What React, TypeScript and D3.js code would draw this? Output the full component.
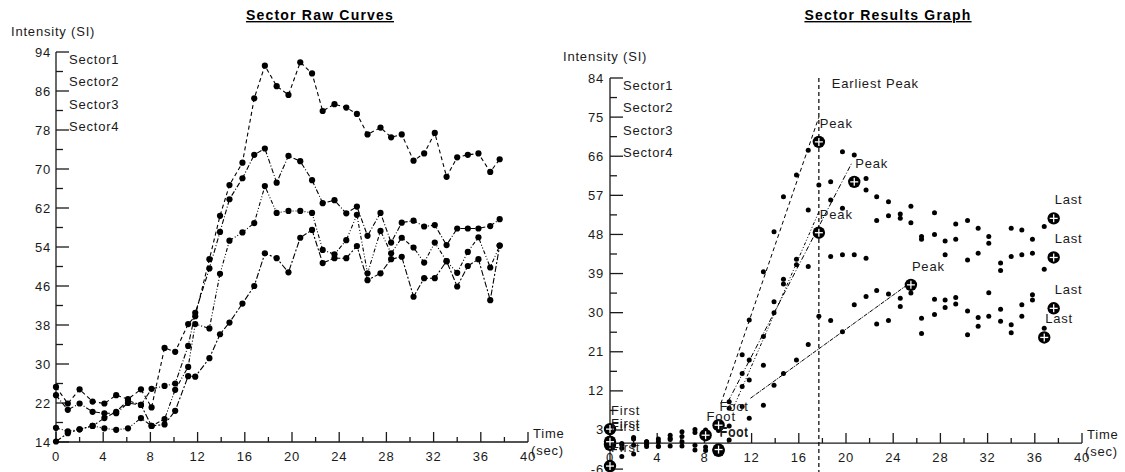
import React, { useRef, useEffect } from 'react';
import * as d3 from 'd3';

// acquisition times (sec), shared by both graphs
const TIMES = [0, 1.0, 2.0, 3.1, 4.1, 5.1, 6.1, 7.2, 8.1, 9.2, 10.1, 11.2, 11.8, 13.0, 13.9, 14.7, 15.8, 16.8, 17.7, 18.7,
  19.7, 20.7, 21.7, 22.6, 23.6, 24.6, 25.5, 26.4, 27.5, 28.4, 29.3, 30.3, 31.2, 32.1, 33.1, 34.0, 34.9, 35.8, 36.8, 37.6];

// raw curves (left)
const SECTOR1_RAW = [25.3, 21.9, 24.8, 22.3, 21.9, 23.6, 22.8, 24.8, 21.1, 33.3, 32.5, 38.2, 39.8, 51.5, 60.4, 66.7, 71.3, 84.5, 91.2, 87.0,
  85.2, 91.9, 89.6, 81.9, 83.3, 82.6, 81.3, 77.1, 78.5, 76.5, 77.1, 71.7, 73.2, 77.4, 68.4, 72.4, 72.9, 73.2, 69.4, 72.0];
const SECTOR2_RAW = [23.6, 20.6, 21.9, 20.2, 19.9, 19.9, 22.0, 21.6, 24.9, 25.5, 26.0, 33.7, 40.5, 49.6, 57.1, 63.8, 68.1, 72.9, 74.2, 67.2,
  72.7, 71.6, 67.7, 63.0, 63.6, 60.9, 62.3, 56.3, 61.0, 54.9, 59.0, 59.4, 58.2, 58.5, 54.4, 57.8, 57.8, 57.8, 58.3, 59.7];
const SECTOR3_RAW = [16.9, 16.2, 16.6, 17.3, 16.8, 16.5, 16.8, 18.9, 17.3, 18.7, 24.7, 29.4, 38.2, 37.3, 48.5, 55.3, 57.0, 58.9, 66.5, 61.0,
  61.4, 61.4, 61.0, 53.4, 52.5, 55.4, 60.6, 48.6, 57.3, 52.7, 55.9, 53.9, 50.8, 54.9, 51.1, 48.7, 53.0, 56.0, 49.8, 54.3];
const SECTOR4_RAW = [14.1, 15.8, 16.6, 17.3, 18.9, 20.2, 22.5, 21.6, 17.3, 17.6, 20.4, 27.5, 27.4, 31.2, 36.1, 38.5, 42.4, 46.0, 52.7, 51.7,
  48.8, 55.9, 57.5, 50.7, 51.7, 51.7, 54.2, 47.2, 48.6, 51.5, 52.0, 43.8, 47.6, 47.6, 51.1, 45.9, 50.1, 51.5, 43.1, 54.3];

// results (right)
const SECTOR1_RES = [3.2, -0.1, 1.3, 0.3, 0.3, 1.8, 2.6, 3.1, 3.0, 4.1, 9.5, 20.3, 28.3, 39.4, 48.6, 56.7, 61.7, 67.4, 69.3, 60.1,
  67.0, 66.3, 60.9, 56.7, 55.5, 52.7, 54.5, 47.5, 53.0, 46.5, 50.4, 51.2, 49.4, 47.5, 41.4, 49.4, 49.0, 46.9, 49.8, 51.7];
const SECTOR2_RES = [-0.4, -1.2, -0.5, -0.8, -0.8, 0.8, 0.3, 2.4, 1.8, 2.9, 8.0, 16.0, 19.1, 24.5, 32.5, 37.7, 42.3, 53.6, 59.4, 55.9,
  54.0, 60.1, 58.2, 51.2, 52.3, 51.7, 50.7, 46.9, 48.0, 43.3, 46.9, 42.1, 43.7, 46.0, 39.7, 42.9, 43.3, 43.7, 40.0, 42.7];
const SECTOR3_RES = [0.3, -3.1, -2.5, 0.3, -0.7, -0.7, -0.7, -1.6, -0.9, -1.8, 3.9, 13.0, 14.5, 17.9, 30.0, 36.6, 41.0, 40.6, 48.4, 42.9,
  43.3, 43.3, 42.5, 35.1, 34.3, 33.3, 34.5, 28.7, 33.1, 32.9, 33.5, 30.4, 28.9, 34.6, 30.8, 27.2, 31.8, 34.1, 26.4, 31.0];
const SECTOR4_RES = [-5.3, -0.4, 0.9, -0.3, 0.9, 1.1, 1.5, -0.5, -1.7, -1.5, 0.7, 8.4, 5.7, 8.7, 13.3, 16.0, 19.1, 22.7, 29.2, 28.2,
  25.6, 31.8, 33.7, 27.4, 28.2, 31.4, 36.4, 25.2, 29.6, 31.2, 32.0, 24.9, 26.9, 29.2, 28.0, 25.4, 29.2, 32.9, 24.3, null];

const SECTOR_NAMES = ['Sector1', 'Sector2', 'Sector3', 'Sector4'];
const RAW_Y_TICKS = [14, 22, 30, 38, 46, 54, 62, 70, 78, 86, 94];
const RES_Y_TICKS = [-6, 3, 12, 21, 30, 39, 48, 57, 66, 75, 84];
const X_TICKS = [0, 4, 8, 12, 16, 20, 24, 28, 32, 36, 40];

// result markers (index into TIMES)
const FOOT_IDX = [9, 8, 9, 9];
const PEAK_IDX = [18, 21, 18, 26];
const LAST_IDX = [39, 39, 39, 38];

// upslope fit lines
const FIT_T0 = [9.4, 10.0, 10.5, 11.9];
const FIT_V0 = [9.1, 9.5, 8.4, 10.3];
const FIT_T1 = [17.7, 20.5, 17.7, 25.5];
const FIT_V1 = [75.0, 64.5, 53.2, 37.0];

const DASHES = ['4,3', '5,2,1,2', '4,2,1,2,1,2', '6,2,2,2'];
const FIT_DASHES = ['4,3', '5,2,1,2', '3,2,1,2,1,2', '4,1,1,1'];

const FONT = '"Liberation Sans", Arial, sans-serif';
const INK = '#1a1a1a';

function drawFrame(g, x, y, yTicks, xAxisAt, yLabelX) {
  const [y0, y1] = y.range();
  const step = yTicks[1] - yTicks[0];
  // y axis
  g.append('line').attr('x1', x(0)).attr('x2', x(0)).attr('y1', y0).attr('y2', y1)
    .attr('stroke', INK).attr('stroke-width', 1.3);
  yTicks.forEach((t, i) => {
    g.append('line').attr('x1', x(0)).attr('x2', x(0) + 13).attr('y1', y(t)).attr('y2', y(t))
      .attr('stroke', INK).attr('stroke-width', 1.3);
    if (i < yTicks.length - 1) {
      const m = t + step / 2;
      g.append('line').attr('x1', x(0)).attr('x2', x(0) + 7).attr('y1', y(m)).attr('y2', y(m))
        .attr('stroke', INK).attr('stroke-width', 1.3);
    }
    g.append('text').attr('x', yLabelX).attr('y', y(t) + 4.5).attr('text-anchor', 'end')
      .style('font-family', FONT).style('font-size', '13px').style('letter-spacing', '0.8px')
      .attr('fill', INK).text(t);
  });
  // x axis
  const ya = y(xAxisAt);
  g.append('line').attr('x1', x(0)).attr('x2', x(40)).attr('y1', ya).attr('y2', ya)
    .attr('stroke', INK).attr('stroke-width', 1.3);
  X_TICKS.forEach((t, i) => {
    g.append('line').attr('x1', x(t)).attr('x2', x(t)).attr('y1', ya).attr('y2', ya - 10)
      .attr('stroke', INK).attr('stroke-width', 1.3);
    if (i < X_TICKS.length - 1) {
      g.append('line').attr('x1', x(t + 2)).attr('x2', x(t + 2)).attr('y1', ya).attr('y2', ya - 5)
        .attr('stroke', INK).attr('stroke-width', 1.3);
    }
    g.append('text').attr('x', x(t)).attr('y', ya + 19).attr('text-anchor', 'middle')
      .style('font-family', FONT).style('font-size', '13px').style('letter-spacing', '0.8px')
      .attr('fill', INK).text(t);
  });
  // axis titles
  g.append('text').attr('x', x(40) + 5).attr('y', ya - 4)
    .style('font-family', FONT).style('font-size', '13px').style('letter-spacing', '0.8px')
    .attr('fill', INK).text('Time');
  g.append('text').attr('x', x(40) + 3).attr('y', ya + 13)
    .style('font-family', FONT).style('font-size', '13px').style('letter-spacing', '0.8px')
    .attr('fill', INK).text('(sec)');
  // legend
  SECTOR_NAMES.forEach((n, i) => {
    g.append('text').attr('x', x(0) + 13).attr('y', y1 + 12 + i * 22.3)
      .style('font-family', FONT).style('font-size', '13px').style('letter-spacing', '0.8px')
      .attr('fill', INK).text(n);
  });
}

function label(g, px, py, txt) {
  g.append('text').attr('x', px + 1).attr('y', py - 14)
    .style('font-family', FONT).style('font-size', '13px').style('letter-spacing', '0.8px')
    .attr('fill', INK).text(txt);
}

function bigMarker(g, px, py) {
  g.append('circle').attr('cx', px).attr('cy', py).attr('r', 6.2).attr('fill', '#000');
  g.append('line').attr('x1', px - 4).attr('x2', px + 4).attr('y1', py).attr('y2', py)
    .attr('stroke', '#fff').attr('stroke-width', 1.3);
  g.append('line').attr('x1', px).attr('x2', px).attr('y1', py - 4).attr('y2', py + 4)
    .attr('stroke', '#fff').attr('stroke-width', 1.3);
}

export default function App() {
  const svgRef = useRef(null);

  useEffect(() => {
    const svg = d3.select(svgRef.current);
    svg.selectAll('*').remove();

    const rawSeries = [SECTOR1_RAW, SECTOR2_RAW, SECTOR3_RAW, SECTOR4_RAW];
    const resSeries = [SECTOR1_RES, SECTOR2_RES, SECTOR3_RES, SECTOR4_RES];

    // titles
    [['Sector Raw Curves', 320], ['Sector Results Graph', 888]].forEach(([t, cx]) => {
      svg.append('text').attr('x', cx).attr('y', 20).attr('text-anchor', 'middle')
        .style('font-family', FONT).style('font-size', '14px').style('font-weight', 'bold')
        .style('letter-spacing', '1.2px').style('text-decoration', 'underline')
        .attr('fill', '#000').text(t);
    });

    // ---------- left: raw curves ----------
    const xL = d3.scaleLinear().domain([0, 40]).range([56, 528]);
    const yL = d3.scaleLinear().domain([14, 94]).range([442, 52]);
    const gL = svg.append('g');
    gL.append('text').attr('x', 11).attr('y', 36)
      .style('font-family', FONT).style('font-size', '13px').style('letter-spacing', '0.8px')
      .attr('fill', INK).text('Intensity (SI)');
    drawFrame(gL, xL, yL, RAW_Y_TICKS, 14, 51);

    const lineL = d3.line().x((d, i) => xL(TIMES[i])).y(d => yL(d));
    rawSeries.forEach((s, k) => {
      gL.append('path').datum(s).attr('d', lineL).attr('fill', 'none')
        .attr('stroke', '#000').attr('stroke-width', 1.1).attr('stroke-dasharray', DASHES[k]);
    });
    rawSeries.forEach(s => {
      gL.selectAll(null).data(s).enter().append('circle')
        .attr('cx', (d, i) => xL(TIMES[i])).attr('cy', d => yL(d)).attr('r', 3.1).attr('fill', '#000');
    });

    // ---------- right: results ----------
    const xR = d3.scaleLinear().domain([0, 40]).range([610, 1082]);
    const yR = d3.scaleLinear().domain([-6, 84]).range([469.1, 78]);
    const gR = svg.append('g');
    gR.append('text').attr('x', 563).attr('y', 61)
      .style('font-family', FONT).style('font-size', '13px').style('letter-spacing', '0.8px')
      .attr('fill', INK).text('Intensity (SI)');
    drawFrame(gR, xR, yR, RES_Y_TICKS, 0, 604);

    // earliest peak marker line
    const tEarly = TIMES[PEAK_IDX[0]];
    gR.append('line').attr('x1', xR(tEarly)).attr('x2', xR(tEarly)).attr('y1', yR(84)).attr('y2', 472)
      .attr('stroke', '#000').attr('stroke-width', 1.2).attr('stroke-dasharray', '4,3');
    gR.append('text').attr('x', xR(tEarly) + 13).attr('y', 88)
      .style('font-family', FONT).style('font-size', '13px').style('letter-spacing', '0.8px')
      .attr('fill', INK).text('Earliest Peak');

    // fit lines
    FIT_T0.forEach((t0, k) => {
      gR.append('line').attr('x1', xR(t0)).attr('y1', yR(FIT_V0[k]))
        .attr('x2', xR(FIT_T1[k])).attr('y2', yR(FIT_V1[k]))
        .attr('stroke', '#000').attr('stroke-width', 1).attr('stroke-dasharray', FIT_DASHES[k]);
    });

    // points
    resSeries.forEach(s => {
      gR.selectAll(null).data(s.map((v, i) => [TIMES[i], v]).filter(d => d[1] != null)).enter()
        .append('circle').attr('cx', d => xR(d[0])).attr('cy', d => yR(d[1])).attr('r', 2.5).attr('fill', '#000');
    });

    // first / foot / peak / last markers
    resSeries.forEach((s, k) => {
      [[0, 'First'], [FOOT_IDX[k], 'Foot'], [PEAK_IDX[k], 'Peak'], [LAST_IDX[k], 'Last']].forEach(([idx, txt]) => {
        const px = xR(TIMES[idx]);
        const py = yR(s[idx]);
        bigMarker(gR, px, py);
        label(gR, px, py, txt);
      });
    });
  }, []);

  return (
    <svg ref={svgRef} width={1125} height={472}
      style={{ position: 'absolute', left: 0, top: 0, background: '#fff' }} />
  );
}
